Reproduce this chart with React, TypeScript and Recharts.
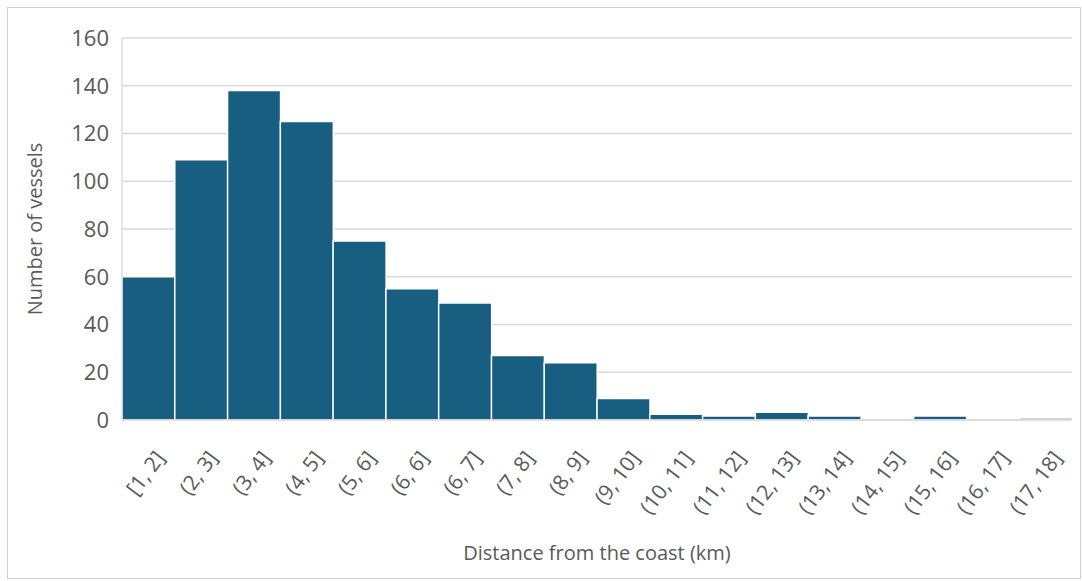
import React from "react";
import { BarChart, Bar, XAxis, YAxis, CartesianGrid, Label } from "recharts";

const categories = [
  "[1, 2]", "(2, 3]", "(3, 4]", "(4, 5]", "(5, 6]", "(6, 6]", "(6, 7]", "(7, 8]", "(8, 9]",
  "(9, 10]", "(10, 11]", "(11, 12]", "(12, 13]", "(13, 14]", "(14, 15]", "(15, 16]", "(16, 17]", "(17, 18]",
];
const vessels = [60, 109, 138, 125, 75, 55, 49, 27, 24, 9, 2.4, 1.7, 3.2, 1.7, 0, 1.7, 0, 0.8];
const yTicks = [0, 20, 40, 60, 80, 100, 120, 140, 160];

const data = categories.map((c, i) => ({ bin: c, count: vessels[i] }));

const FONT = "'Open Sans', sans-serif";
const GRAY = "#595959";

const XTick = (props: any) => {
  const { x, y, payload } = props;
  return (
    <g transform={`translate(${x + 12},${y + 26})`}>
      <text
        textAnchor="end"
        transform="rotate(-53)"
        fontFamily={FONT}
        fontSize={21}
        fill={GRAY}
        dy={7}
      >
        {payload.value}
      </text>
    </g>
  );
};

export default function App() {
  return (
    <div
      style={{
        width: 1072,
        height: 570,
        border: "1px solid #d0d0d0",
        position: "absolute",
        top: 7,
        left: 7,
        background: "#fff",
      }}
    >
      <BarChart
        width={1072}
        height={570}
        data={data}
        margin={{ top: 30, right: 8, left: 0, bottom: 0 }}
        barCategoryGap={0}
      >
        <CartesianGrid vertical={false} stroke="#d9d9d9" strokeWidth={1.3} />
        <XAxis
          dataKey="bin"
          height={158}
          interval={0}
          tick={<XTick />}
          tickLine={false}
          axisLine={{ stroke: "#d9d9d9", strokeWidth: 1.3 }}
        >
          <Label
            value="Distance from the coast (km)"
            position="insideBottom"
            offset={18}
            style={{ fontFamily: FONT, fontSize: 20, fill: GRAY }}
          />
        </XAxis>
        <YAxis
          width={114}
          domain={[0, 160]}
          ticks={yTicks}
          interval={0}
          tickLine={false}
          axisLine={{ stroke: "#d9d9d9", strokeWidth: 1.3 }}
          tick={{ fontFamily: FONT, fontSize: 22, fill: GRAY }}
          tickMargin={7}
        >
          <Label
            value="Number of vessels"
            angle={-90}
            position="insideLeft"
            offset={27}
            style={{ fontFamily: FONT, fontSize: 20, fill: GRAY, textAnchor: "middle" }}
          />
        </YAxis>
        <Bar dataKey="count" fill="#175E80" stroke="#ffffff" strokeWidth={1.5} isAnimationActive={false} />
      </BarChart>
    </div>
  );
}
